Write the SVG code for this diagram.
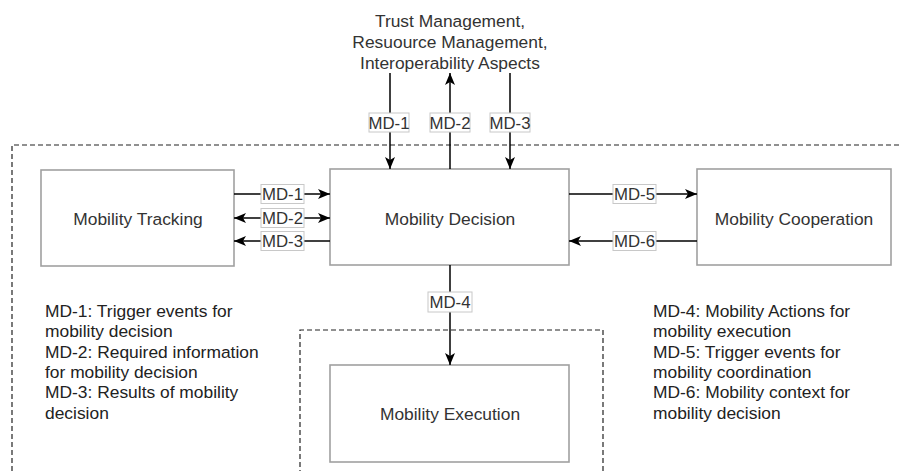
<svg xmlns="http://www.w3.org/2000/svg" width="899" height="471" viewBox="0 0 899 471">
<style>
text{font-family:"Liberation Sans",Arial,Helvetica,sans-serif;font-size:17.4px;fill:#333}
.box{fill:#fff;stroke:#a0a0a0;stroke-width:1.6}
.dash{fill:none;stroke:#222;stroke-width:1.2;stroke-dasharray:5 3}
.edge{fill:none;stroke:#000;stroke-width:1.5}
.lbl{fill:#fff;stroke:#c8c8c8;stroke-width:1}
.lt{font-size:16.8px;text-anchor:middle;fill:#333}
.c{text-anchor:middle}
.leg{fill:#222}
</style>
<defs>
<marker id="ah" viewBox="0 0 12 10" refX="12" refY="5" markerWidth="12" markerHeight="10" markerUnits="userSpaceOnUse" orient="auto-start-reverse">
<path d="M0,0 L12,5 L0,10 L3,5 Z" fill="#000"/>
</marker>
</defs>
<rect width="899" height="471" fill="#fff"/>
<g id="boundaries">
<path class="dash" d="M12,471 V145 H905"/>
<path class="dash" d="M300,475 V330 H603 V475"/>
</g>
<g id="title">
<text class="c" x="450" y="27">Trust Management,</text>
<text class="c" x="450" y="48">Resuource Management,</text>
<text class="c" x="450" y="69">Interoperability Aspects</text>
</g>
<g id="tracking">
<rect class="box" x="41" y="170" width="193" height="96"/>
<text class="c" x="138" y="225">Mobility Tracking</text>
</g>
<g id="decision">
<rect class="box" x="330" y="169" width="239" height="96"/>
<text class="c" x="450" y="225">Mobility Decision</text>
</g>
<g id="cooperation">
<rect class="box" x="697" y="169" width="194" height="96"/>
<text class="c" x="794" y="225">Mobility Cooperation</text>
</g>
<g id="execution">
<rect class="box" x="330" y="365" width="239" height="97"/>
<text class="c" x="450" y="420">Mobility Execution</text>
</g>
<g id="connectors">
<path class="edge" d="M390,73 V169" marker-end="url(#ah)"/>
<path class="edge" d="M450,169 V73" marker-end="url(#ah)"/>
<path class="edge" d="M510,73 V169" marker-end="url(#ah)"/>
<path class="edge" d="M234,194 H330" marker-end="url(#ah)"/>
<path class="edge" d="M234,218 H330" marker-start="url(#ah)" marker-end="url(#ah)"/>
<path class="edge" d="M330,241 H234" marker-end="url(#ah)"/>
<path class="edge" d="M569,194 H697" marker-end="url(#ah)"/>
<path class="edge" d="M697,241 H569" marker-end="url(#ah)"/>
<path class="edge" d="M450,265 V365" marker-end="url(#ah)"/>
<g id="labels">
<rect class="lbl" x="369" y="113" width="40" height="19"/><text class="lt" x="389" y="128.5">MD-1</text>
<rect class="lbl" x="430" y="113" width="40" height="19"/><text class="lt" x="450" y="128.5">MD-2</text>
<rect class="lbl" x="490" y="113" width="40" height="19"/><text class="lt" x="510" y="128.5">MD-3</text>
<rect class="lbl" x="261" y="184.5" width="43" height="19"/><text class="lt" x="282.5" y="200">MD-1</text>
<rect class="lbl" x="261" y="208.5" width="43" height="19"/><text class="lt" x="282.5" y="224">MD-2</text>
<rect class="lbl" x="261" y="231.5" width="43" height="19"/><text class="lt" x="282.5" y="247">MD-3</text>
<rect class="lbl" x="613" y="184.5" width="43" height="19"/><text class="lt" x="634.5" y="200">MD-5</text>
<rect class="lbl" x="613" y="231.5" width="43" height="19"/><text class="lt" x="634.5" y="247">MD-6</text>
<rect class="lbl" x="428" y="292" width="44" height="20"/><text class="lt" x="450" y="308">MD-4</text>
</g>
</g>
<g id="legend-left">
<text class="leg" x="45" y="317">MD-1: Trigger events for</text>
<text class="leg" x="45" y="337.3">mobility decision</text>
<text class="leg" x="45" y="357.6">MD-2: Required information</text>
<text class="leg" x="45" y="377.9">for mobility decision</text>
<text class="leg" x="45" y="398.2">MD-3: Results of mobility</text>
<text class="leg" x="45" y="418.5">decision</text>
</g>
<g id="legend-right">
<text class="leg" x="653" y="317">MD-4: Mobility Actions for</text>
<text class="leg" x="653" y="337.3">mobility execution</text>
<text class="leg" x="653" y="357.6">MD-5: Trigger events for</text>
<text class="leg" x="653" y="377.9">mobility coordination</text>
<text class="leg" x="653" y="398.2">MD-6: Mobility context for</text>
<text class="leg" x="653" y="418.5">mobility decision</text>
</g>
</svg>
